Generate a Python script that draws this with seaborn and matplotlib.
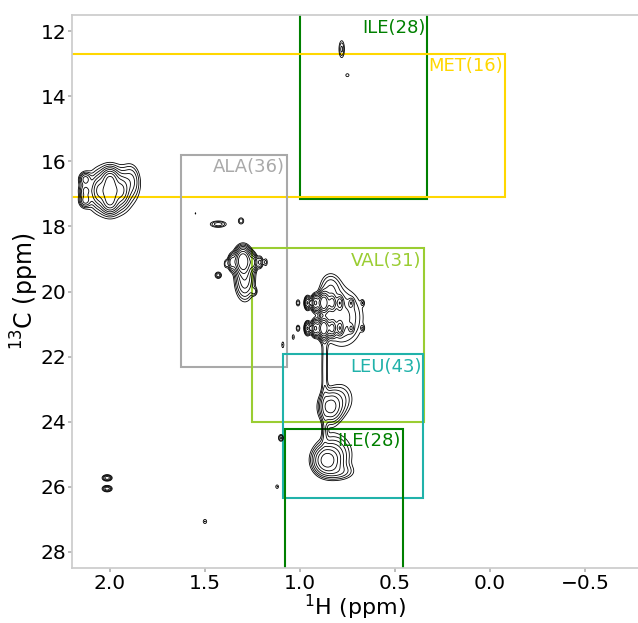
import numpy as np
import matplotlib
matplotlib.use("Agg")
import matplotlib.pyplot as plt
import matplotlib.patches as mpatches
import seaborn as sns

# ---- peak table (1H ppm, 13C ppm, widths, height) ----
peak_h = [2.00, 2.00, 2.00, 2.06, 1.94, 2.13, 2.13, 2.13, 1.89, 2.00,
          1.30, 1.29, 1.36, 1.245, 1.21, 1.39, 1.18, 1.43, 1.24, 1.43, 1.31, 1.55,
          0.875, 0.875, 0.96, 0.92, 0.83, 0.79, 0.73, 0.67, 1.01,
          0.96, 0.92, 0.83, 0.79, 0.73, 0.67, 1.01,
          0.78, 0.87, 0.84, 0.78, 0.87, 0.86, 0.82, 0.79, 0.84,
          1.035, 1.09, 1.10, 1.12, 1.50, 2.015, 2.015, 0.78, 0.75]
peak_c = [16.55, 16.90, 17.25, 16.90, 16.90, 16.55, 16.90, 17.20, 16.60, 16.90,
          19.05, 19.60, 19.10, 19.10, 19.10, 19.15, 19.10, 19.50, 20.00, 17.93, 17.83, 17.60,
          20.35, 21.13, 20.35, 20.35, 20.35, 20.35, 20.35, 20.35, 20.35,
          21.13, 21.13, 21.13, 21.13, 21.13, 21.13, 21.13,
          20.80, 22.40, 23.55, 23.30, 24.30, 25.20, 25.00, 25.55, 19.90,
          21.40, 21.64, 24.50, 26.00, 27.07, 25.73, 26.06, 12.55, 13.35]
peak_wh = [0.025, 0.025, 0.025, 0.022, 0.022, 0.018, 0.018, 0.018, 0.028, 0.085,
           0.024, 0.030, 0.012, 0.012, 0.010, 0.008, 0.008, 0.012, 0.010, 0.030, 0.012, 0.004,
           0.016, 0.016, 0.010, 0.012, 0.012, 0.010, 0.008, 0.006, 0.008,
           0.010, 0.012, 0.012, 0.010, 0.008, 0.006, 0.008,
           0.070, 0.012, 0.035, 0.045, 0.010, 0.040, 0.060, 0.050, 0.035,
           0.006, 0.006, 0.010, 0.008, 0.010, 0.016, 0.016, 0.011, 0.011]
peak_wc = [0.18, 0.18, 0.18, 0.25, 0.25, 0.12, 0.12, 0.12, 0.30, 0.52,
           0.22, 0.38, 0.15, 0.15, 0.12, 0.10, 0.10, 0.07, 0.08, 0.07, 0.08, 0.04,
           0.17, 0.17, 0.12, 0.14, 0.14, 0.12, 0.08, 0.06, 0.08,
           0.12, 0.14, 0.14, 0.12, 0.08, 0.06, 0.08,
           0.55, 0.80, 0.28, 0.35, 0.30, 0.24, 0.40, 0.15, 0.30,
           0.08, 0.10, 0.08, 0.06, 0.07, 0.06, 0.06, 0.20, 0.06]
peak_amp = [0.35, 0.45, 0.35, 0.22, 0.22, 0.14, 0.12, 0.14, 0.08, 0.10,
            0.60, 0.18, 0.15, 0.18, 0.10, 0.05, 0.05, 0.08, 0.06, 0.08, 0.06, 0.035,
            0.60, 0.60, 0.20, 0.28, 0.28, 0.20, 0.08, 0.045, 0.06,
            0.20, 0.28, 0.28, 0.20, 0.08, 0.045, 0.06,
            0.11, 0.06, 0.22, 0.06, 0.045, 0.30, 0.10, 0.06, 0.08,
            0.045, 0.045, 0.07, 0.045, 0.045, 0.12, 0.12, 0.07, 0.04]

# ---- assignment boxes (1H left, 1H right, 13C top, 13C bottom) ----
box_names = ["ILE(28)", "MET(16)", "ALA(36)", "VAL(31)", "LEU(43)", "ILE(28)"]
box_colors = ["green", "gold", "darkgray", "yellowgreen", "lightseagreen", "green"]
box_h1 = [1.00, 2.40, 1.627, 1.25, 1.088, 1.081]
box_h2 = [0.33, -0.08, 1.069, 0.349, 0.35, 0.458]
box_c1 = [11.0, 12.70, 15.79, 18.67, 21.92, 24.22]
box_c2 = [17.16, 17.11, 22.31, 24.00, 26.34, 29.0]
label_c = [11.62, 12.80, 15.90, 18.78, 22.03, 24.33]

sns.set_theme(style="white")
plt.rcParams['font.family'] = ['DejaVu Sans']
plt.rcParams['axes.edgecolor'] = '.8'
plt.rcParams['axes.linewidth'] = 1.25

# build spectrum grid
hh = np.linspace(2.25, -0.85, 900)
cc = np.linspace(11.0, 29.0, 1000)
H, C = np.meshgrid(hh, cc)
Z = np.zeros_like(H)
for h0, c0, wh, wc, a in zip(peak_h, peak_c, peak_wh, peak_wc, peak_amp):
    Z += a * np.exp(-0.5 * (((H - h0) / wh) ** 2 + ((C - c0) / wc) ** 2))

levels = 0.03 * 1.45 ** np.arange(8)

fig = plt.figure(figsize=(6.38, 6.23), dpi=100)
ax = fig.add_axes([72 / 638, 55 / 623, 1 - 72 / 638, (568 - 15) / 623])
ax.contour(H, C, Z, levels=levels, colors='black', linewidths=0.6)

for name, col, x1, x2, y1, y2, ly in zip(box_names, box_colors, box_h1, box_h2,
                                          box_c1, box_c2, label_c):
    ax.add_patch(mpatches.Rectangle((x2, y1), x1 - x2, y2 - y1, fill=False,
                                    edgecolor=col, linewidth=1.5))
    ax.text(x2 + 0.01, ly, name, color=col, ha='right', va='top', fontsize=13)

ax.set_xlim(2.2, -0.78)
ax.set_ylim(28.5, 11.5)
ax.set_xticks([2.0, 1.5, 1.0, 0.5, 0.0, -0.5])
ax.set_yticks([12, 14, 16, 18, 20, 22, 24, 26, 28])
ax.tick_params(axis='both', labelsize=14.5, length=3, color='.7',
               labelcolor='black', bottom=True, left=True, pad=1.5)
ax.tick_params(axis='y', pad=1)
ax.spines['right'].set_visible(False)
ax.set_xlabel(r'$^{1}$H (ppm)', fontsize=16, labelpad=0, color='black')
ax.set_ylabel(r'$^{13}$C (ppm)', fontsize=17, labelpad=0, color='black')

fig.savefig('out.png', dpi=100)
